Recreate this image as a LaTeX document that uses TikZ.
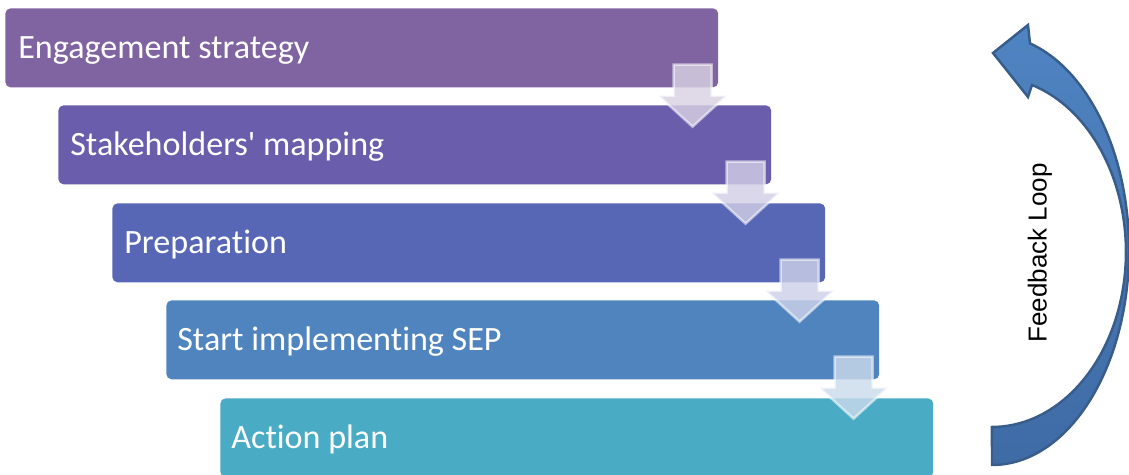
\documentclass[tikz,border=0pt]{standalone}
\usepackage{fontspec}
\newfontfamily\boxfont[Ligatures=NoCommon]{Carlito}
\newfontfamily\loopfont{Liberation Sans}
\definecolor{cA}{HTML}{8064A2}
\definecolor{cB}{HTML}{6A5DAC}
\definecolor{cC}{HTML}{5767B5}
\definecolor{cD}{HTML}{4F84BE}
\definecolor{cE}{HTML}{4AABC5}
\definecolor{looptop}{HTML}{4F84C2}
\definecolor{loopbot}{HTML}{3F6BA5}
\definecolor{loopline}{HTML}{385D8A}
\tikzset{
  stagebox/.style={draw=none, rounded corners=3pt, minimum width=14.26cm, minimum height=1.58cm, inner sep=0pt, anchor=north west},
  stagetext/.style={anchor=base west, inner sep=0pt, text=white, font=\boxfont\fontsize{19.4}{23}\selectfont},
  flowarrow/.style={draw=white, draw opacity=0.55, line width=1.4pt, fill opacity=0.82, line join=miter},
  loopshape/.style={top color=looptop, bottom color=loopbot, draw=loopline, line width=1.4pt, line join=miter},
}
\newcommand\dnarrow[2]{%
  \draw[flowarrow, fill=#2!30!white]
    ([shift={(-45,-23)}]#1.south east) -- ([shift={(-7,-23)}]#1.south east)
    -- ([shift={(-7,8)}]#1.south east) -- ([shift={(8,8)}]#1.south east)
    -- ([shift={(-26,39)}]#1.south east) -- ([shift={(-60,8)}]#1.south east)
    -- ([shift={(-45,8)}]#1.south east) -- cycle;}
\begin{document}
\begin{tikzpicture}[x=0.02cm,y=-0.02cm]
\useasboundingbox (0,0) rectangle (1129,475);
\node[stagebox, fill=cA] (b1) at (5,8) {};
\node[stagebox, fill=cB] (b2) at (58,105) {};
\node[stagebox, fill=cC] (b3) at (112,203) {};
\node[stagebox, fill=cD] (b4) at (166,300) {};
\node[stagebox, fill=cE] (b5) at (220,398) {};
\node[stagetext] (t1) at ([shift={(13,51)}]b1.north west) {Engagement strategy};
\node[stagetext] (t2) at ([shift={(12,51)}]b2.north west) {Stakeholders' mapping};
\node[stagetext] (t3) at ([shift={(12,51)}]b3.north west) {Preparation};
\node[stagetext] (t4) at ([shift={(11,51)}]b4.north west) {Start implementing SEP};
\node[stagetext] (t5) at ([shift={(11,51)}]b5.north west) {Action plan};
\dnarrow{b1}{cA}
\dnarrow{b2}{cB}
\dnarrow{b3}{cC}
\dnarrow{b4}{cD}
\draw[loopshape] (992,465) arc[start angle=90, end angle=-73.9, x radius=137, y radius=215]
  -- (1028,25) -- (993,53) -- (1028,97) -- (1032,85)
  arc[start angle=-72.6, end angle=90, x radius=134, y radius=175] -- cycle;
\node[rotate=90, inner sep=0pt, font=\loopfont\fontsize{14.8}{17}\selectfont] (fb) at (1040,253) {Feedback Loop};
\end{tikzpicture}
\end{document}
